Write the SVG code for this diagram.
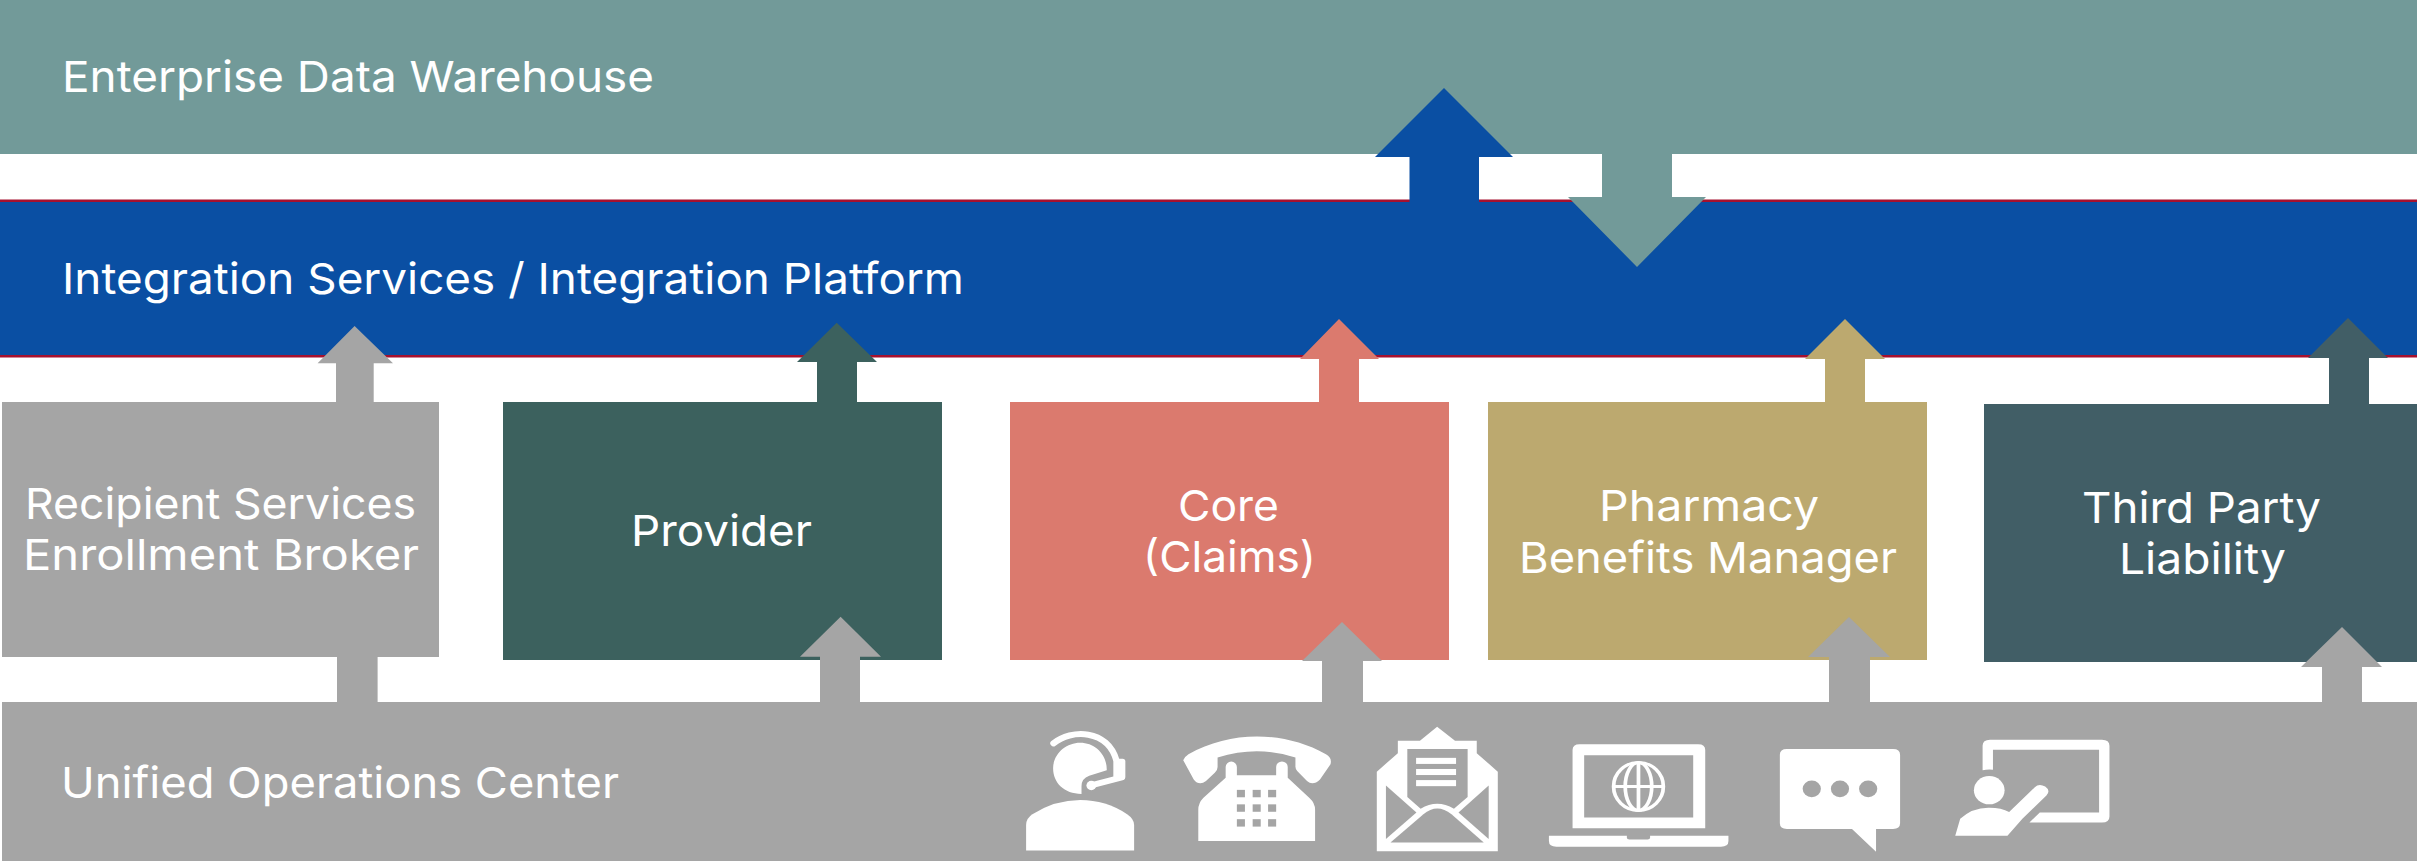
<svg xmlns="http://www.w3.org/2000/svg" width="2417" height="863" viewBox="0 0 2417 863">
<style>
text{font-family:"Inter","Open Sans","Liberation Sans",sans-serif;font-size:43px;fill:#fff;font-weight:400}
.gray{fill:#a5a5a5}.teal{fill:#729a99}.blue{fill:#0a4fa3}.prov{fill:#3c615e}.core{fill:#db7a6e}.phar{fill:#bca96f}.third{fill:#415e66}
.w{fill:#fff}
.wl{fill:none;stroke:#fff}
</style>
<rect width="2417" height="863" fill="#fff"/>
<g id="enterprise-data-warehouse">
<rect class="teal" x="0" y="0" width="2417" height="154"/>
<text x="62" y="91.500" textLength="592" lengthAdjust="spacingAndGlyphs">Enterprise Data Warehouse</text>
</g>
<g id="integration-platform">
<rect x="0" y="199.500" width="2417" height="158" fill="#a5112f"/>
<rect class="blue" x="0" y="202" width="2417" height="153"/>
<text x="62" y="294" textLength="902" lengthAdjust="spacingAndGlyphs">Integration Services / Integration Platform</text>
</g>
<g id="recipient-services">
<rect class="gray" x="2" y="402" width="437" height="255"/>
<text x="25" y="519" textLength="391" lengthAdjust="spacingAndGlyphs">Recipient Services</text>
<text x="23" y="570" textLength="396" lengthAdjust="spacingAndGlyphs">Enrollment Broker</text>
</g>
<g id="provider">
<rect class="prov" x="503" y="402" width="439" height="258"/>
<text x="631" y="546" textLength="181" lengthAdjust="spacingAndGlyphs">Provider</text>
</g>
<g id="core-claims">
<rect class="core" x="1010" y="402" width="439" height="258"/>
<text x="1178" y="521" textLength="101" lengthAdjust="spacingAndGlyphs">Core</text>
<text x="1143" y="572" textLength="173" lengthAdjust="spacingAndGlyphs">(Claims)</text>
</g>
<g id="pharmacy-benefits-manager">
<rect class="phar" x="1488" y="402" width="439" height="258"/>
<text x="1599" y="521" textLength="220" lengthAdjust="spacingAndGlyphs">Pharmacy</text>
<text x="1519" y="573" textLength="378" lengthAdjust="spacingAndGlyphs">Benefits Manager</text>
</g>
<g id="third-party-liability">
<rect class="third" x="1984" y="404" width="433" height="258"/>
<text x="2082" y="523" textLength="239" lengthAdjust="spacingAndGlyphs">Third Party</text>
<text x="2119" y="574" textLength="167" lengthAdjust="spacingAndGlyphs">Liability</text>
</g>
<g id="unified-operations-center">
<rect class="gray" x="2" y="702" width="2415" height="159"/>
<text x="61" y="798" textLength="558" lengthAdjust="spacingAndGlyphs">Unified Operations Center</text>
<g id="icons-a" transform="translate(950,680) scale(0.3507,0.337)">
<path class="w" d="M217 506V430Q217 410 235 398Q300 356 371 356Q445 356 505 398Q525 412 525 430V506Z"/>
<path class="w" d="M375 338C325 338 294 305 294 262C294 220 330 186 371 186C415 186 448 222 447 268L397 284Q375 292 375 315Z"/>
<path class="wl" stroke-width="18" stroke-linecap="round" d="M295 188C345 145 450 145 475 240V285"/>
<path class="w" d="M475 234H492Q500 234 500 242V287Q500 295 492 296L467 296V234Z"/>
<path class="wl" stroke-width="18" stroke-linecap="round" d="M405 312L490 289"/>
<circle class="w" cx="403" cy="313" r="14"/>
<path class="w" d="M665 238Q668 228 680 220C800 150 950 150 1072 220Q1090 230 1085 250L1055 295Q1035 315 1018 300L990 270Q984 262 985 255V230C910 205 840 205 763 230V258Q763 268 755 275L730 300Q710 315 695 295Z"/>
<path class="w" d="M786 290V258A16 16 0 0 1 818 258V283H930V258A16 16 0 0 1 963 258V290L1025 350Q1041 365 1041 385V478H708V385Q708 365 722 350Z"/>
<g class="gray">
<rect x="818" y="326" width="23" height="22"/><rect x="863" y="326" width="23" height="22"/><rect x="907" y="326" width="23" height="22"/>
<rect x="818" y="369" width="23" height="22"/><rect x="863" y="369" width="23" height="22"/><rect x="907" y="369" width="23" height="22"/>
<rect x="818" y="413" width="23" height="22"/><rect x="863" y="413" width="23" height="22"/><rect x="907" y="413" width="23" height="22"/>
</g>
<path class="w" d="M1217 508V272L1277 217V180H1340L1389 139L1440 180H1502V217L1562 272V508Z"/>
<path class="gray" d="M1304 205H1476V347L1437 382Q1389 352 1342 382L1304 347Z"/>
<rect class="w" x="1329" y="231" width="114" height="18"/><rect class="w" x="1329" y="264" width="114" height="18"/><rect class="w" x="1329" y="297" width="114" height="18"/>
<path class="gray" d="M1243 313L1330 393L1243 472Z"/>
<path class="gray" d="M1536 313L1450 393L1536 472Z"/>
<path class="gray" d="M1256 482L1350 398Q1389 365 1430 398L1522 482Z"/>
</g>
<g id="icons-b" transform="translate(1500,680) scale(0.4146,0.337)">
<path class="w" fill-rule="evenodd" d="M175 440V208Q175 191 192 191H478Q495 191 495 208V440ZM203 223V408H466V223Z"/>
<path class="w" d="M118 462H306V468Q306 473 312 473H356Q362 473 362 468V462H551V478Q551 495 533 495H136Q118 495 118 478Z"/>
<g class="wl" stroke-width="9">
<ellipse cx="334" cy="316" rx="60" ry="71"/>
<ellipse cx="334" cy="316" rx="32" ry="71"/>
<path d="M334 245V387M275 316H394"/>
</g>
<path class="w" d="M692 205H948Q965 205 965 222V425Q965 442 948 442H907V510L849 442H692Q675 442 675 425V222Q675 205 692 205Z"/>
<ellipse class="gray" cx="752" cy="323" rx="22" ry="25"/><ellipse class="gray" cx="820" cy="323" rx="22" ry="25"/><ellipse class="gray" cx="888" cy="323" rx="22" ry="25"/>
<path class="w" d="M1164 268V195Q1164 177 1182 177H1452Q1470 177 1470 195V405Q1470 423 1452 423H1277L1302 393H1445V207H1189V266Q1176 264 1164 268Z"/>
<ellipse class="w" cx="1180" cy="327" rx="37" ry="42"/>
<path class="w" d="M1098 462L1110 412Q1140 378 1180 379Q1210 379 1228 392L1290 318Q1300 306 1315 316Q1329 328 1318 343L1260 412L1224 462Z"/>
</g>
</g>
<g id="connectors">
<polygon class="gray" points="354.6,326 393,363.3 373.7,363.3 373.7,403 336,403 336,363.3 317.6,363.3"/>
<polygon class="prov" points="836.7,322.7 877,362 857,362 857,403 817,403 817,362 797,362"/>
<polygon class="core" points="1339,319 1379,359 1359,359 1359,403 1319,403 1319,359 1300,359"/>
<polygon class="phar" points="1845,319 1885,359 1865,359 1865,403 1825,403 1825,359 1805,359"/>
<polygon class="third" points="2348,318 2388,358 2369,358 2369,405 2329,405 2329,358 2308,358"/>
<rect class="gray" x="337" y="656" width="40.600" height="47"/>
<polygon class="gray" points="840.6,616.7 881,656.7 860,656.7 860,703 820,703 820,656.7 800,656.7"/>
<polygon class="gray" points="1342,622 1382,661 1363,661 1363,703 1322,703 1322,661 1302,661"/>
<polygon class="gray" points="1849,617 1890,657 1870,657 1870,703 1829,703 1829,657 1808,657"/>
<polygon class="gray" points="2342,627 2382,667 2362,667 2362,703 2322,703 2322,667 2301,667"/>
<polygon class="blue" points="1444,88 1513,157 1479,157 1479,205 1409.5,205 1409.5,157 1375,157"/>
<polygon class="teal" points="1602,153 1672,153 1672,197 1706,197 1637,267 1568,197 1602,197"/>
</g>
</svg>
